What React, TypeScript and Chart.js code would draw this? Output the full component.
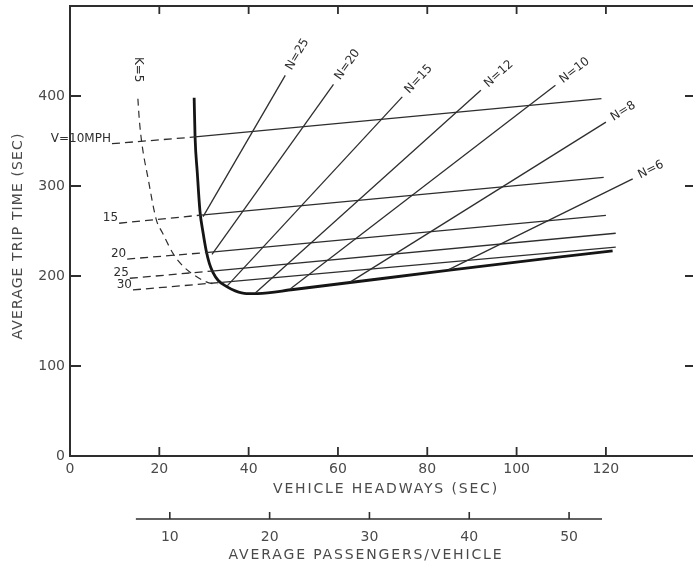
import { useEffect, useRef } from "react";
import { Chart, registerables } from "chart.js";

Chart.register(...registerables);

// ---- axes ----
const xTicks = [0, 20, 40, 60, 80, 100, 120];
const yTicks = [0, 100, 200, 300, 400];
const xRange = [0, 139.5];
const yRange = [0, 500];
const xTitle = "VEHICLE HEADWAYS (SEC)";
const yTitle = "AVERAGE TRIP TIME (SEC)";

// secondary scale: average passengers per vehicle
const passengerTicks = [10, 20, 30, 40, 50];
const passengerRange = [6.6, 53.3];
const headwayPerPassenger = 2.235;
const passengerTitle = "AVERAGE PASSENGERS/VEHICLE";

// ---- bold envelope curve ----
const envelopeX = [27.8, 28, 28.5, 29.1, 29.8, 30.5, 31.2, 32, 33.2, 35, 37, 39.5, 42, 50, 85, 121.5];
const envelopeY = [398, 355, 315, 272, 248, 228, 214, 204, 195, 188.5, 183.5, 180.5, 180.5, 185, 206.5, 228];

// ---- K = 5 dashed curve ----
const kLabel = "K=5";
const kX = [15.2, 15.5, 16.1, 17.5, 19.3, 20.7, 23.2, 25.3, 27.5, 30.5, 33];
const kY = [397, 375, 347, 308, 263, 248, 224, 211, 202, 193.5, 190.5];

// ---- speed lines (V) ----
const speedLabels = ["V=10MPH", "15", "20", "25", "30"];
const speedDashX = [9.4, 11, 12.8, 13.4, 14.1];
const speedDashY = [347, 258.6, 218.8, 197.5, 184.5];
const speedStartX = [28, 29.9, 30.4, 31.8, 34];
const speedStartY = [354.5, 268, 226, 205.5, 193];
const speedEndX = [119, 119.5, 120, 122.2, 122.2];
const speedEndY = [397, 309.5, 267.4, 247.5, 232];

// ---- N lines ----
const nLabels = ["N=25", "N=20", "N=15", "N=12", "N=10", "N=8", "N=6"];
const nStartX = [29.8, 31.8, 35.2, 41.5, 49.3, 62.8, 84.8];
const nStartY = [266, 224, 189, 181, 185.5, 193.5, 207];
const nEndX = [48.2, 59, 74.4, 92, 108.7, 120, 126];
const nEndY = [423, 413, 399, 406.5, 412, 371, 308];

const FONT = "'DejaVu Sans', sans-serif";
const INK = "#2e2e2e";
const TICK_INK = "#4a4a4a";

function drawSpaced(ctx: CanvasRenderingContext2D, text: string, x: number, y: number, target: number, rot: number) {
  ctx.save();
  ctx.translate(x, y);
  if (rot) ctx.rotate(rot);
  (ctx as any).letterSpacing = "0px";
  const w = ctx.measureText(text).width;
  const ls = Math.max(0, (target - w) / text.length);
  (ctx as any).letterSpacing = ls + "px";
  ctx.textAlign = "left";
  ctx.textBaseline = "middle";
  ctx.fillText(text, -target / 2, 0);
  ctx.restore();
}

const decorPlugin = {
  id: "decor",
  afterDraw(chart: any) {
    const ctx: CanvasRenderingContext2D = chart.ctx;
    const xs = chart.scales.x;
    const ys = chart.scales.y;
    const { left, right, top, bottom } = chart.chartArea;
    ctx.save();
    ctx.strokeStyle = INK;
    ctx.lineCap = "butt";

    // top border
    ctx.lineWidth = 2;
    ctx.beginPath();
    ctx.moveTo(left - 1, top);
    ctx.lineTo(right, top);
    ctx.stroke();

    // inward ticks
    ctx.lineWidth = 1.8;
    xTicks.filter((v) => v > 0).forEach((v) => {
      const px = xs.getPixelForValue(v);
      ctx.beginPath();
      ctx.moveTo(px, bottom);
      ctx.lineTo(px, bottom - 9);
      ctx.moveTo(px, top);
      ctx.lineTo(px, top + 8);
      ctx.stroke();
    });
    yTicks.filter((v) => v > 0).forEach((v) => {
      const py = ys.getPixelForValue(v);
      ctx.beginPath();
      ctx.moveTo(left, py);
      ctx.lineTo(left + 11, py);
      ctx.moveTo(right, py);
      ctx.lineTo(right - 8, py);
      ctx.stroke();
    });

    // passenger scale
    const py0 = bottom + 63;
    ctx.lineWidth = 1.6;
    ctx.beginPath();
    ctx.moveTo(xs.getPixelForValue(passengerRange[0] * headwayPerPassenger), py0);
    ctx.lineTo(xs.getPixelForValue(passengerRange[1] * headwayPerPassenger), py0);
    ctx.stroke();
    ctx.fillStyle = TICK_INK;
    ctx.font = `14px ${FONT}`;
    ctx.textAlign = "center";
    ctx.textBaseline = "middle";
    passengerTicks.forEach((p) => {
      const px = xs.getPixelForValue(p * headwayPerPassenger);
      ctx.beginPath();
      ctx.moveTo(px, py0);
      ctx.lineTo(px, py0 - 7);
      ctx.stroke();
      ctx.fillText(String(p), px, py0 + 18);
    });

    // axis titles
    ctx.font = `14px ${FONT}`;
    ctx.fillStyle = TICK_INK;
    drawSpaced(ctx, xTitle, 386, bottom + 33, 226, 0);
    drawSpaced(ctx, passengerTitle, 366, bottom + 99, 275, 0);
    drawSpaced(ctx, yTitle, left - 52, 236, 207, -Math.PI / 2);

    // in-plot labels
    ctx.fillStyle = INK;
    ctx.font = `12px ${FONT}`;
    speedLabels.forEach((l, i) => {
      const px = xs.getPixelForValue(speedDashX[i]);
      const py = ys.getPixelForValue(speedDashY[i]);
      ctx.textAlign = "right";
      ctx.textBaseline = "middle";
      ctx.fillText(l, px - 1, py - 5);
    });

    nLabels.forEach((l, i) => {
      const x1 = xs.getPixelForValue(nStartX[i]);
      const y1 = ys.getPixelForValue(nStartY[i]);
      const x2 = xs.getPixelForValue(nEndX[i]);
      const y2 = ys.getPixelForValue(nEndY[i]);
      const ang = Math.atan2(y2 - y1, x2 - x1);
      const w = ctx.measureText(l).width;
      const d = 7 + w / 2;
      ctx.save();
      ctx.translate(x2 + Math.cos(ang) * d, y2 + Math.sin(ang) * d);
      ctx.rotate(ang);
      ctx.textAlign = "center";
      ctx.textBaseline = "middle";
      ctx.fillText(l, 0, 0);
      ctx.restore();
    });

    // K label
    ctx.save();
    ctx.translate(xs.getPixelForValue(kX[0]), ys.getPixelForValue(kY[0]) - 29);
    ctx.rotate(Math.PI / 2);
    ctx.textAlign = "center";
    ctx.textBaseline = "middle";
    ctx.fillText(kLabel, 0, 0);
    ctx.restore();

    ctx.restore();
  },
};

export default function App() {
  const ref = useRef<HTMLCanvasElement | null>(null);

  useEffect(() => {
    if (!ref.current) return;
    const thin = {
      borderColor: INK,
      borderWidth: 1.3,
      pointRadius: 0,
      showLine: true,
      fill: false,
    };
    const datasets: any[] = [];
    speedLabels.forEach((l, i) => {
      datasets.push({
        ...thin,
        label: l + " (extension)",
        data: [
          { x: speedDashX[i], y: speedDashY[i] },
          { x: speedStartX[i], y: speedStartY[i] },
        ],
        borderDash: [8, 5],
      });
      datasets.push({
        ...thin,
        label: l,
        data: [
          { x: speedStartX[i], y: speedStartY[i] },
          { x: speedEndX[i], y: speedEndY[i] },
        ],
      });
    });
    nLabels.forEach((l, i) => {
      datasets.push({
        ...thin,
        label: l,
        data: [
          { x: nStartX[i], y: nStartY[i] },
          { x: nEndX[i], y: nEndY[i] },
        ],
      });
    });
    datasets.push({
      ...thin,
      label: kLabel,
      borderWidth: 1.2,
      borderDash: [7, 5],
      cubicInterpolationMode: "monotone",
      data: kX.map((x, i) => ({ x, y: kY[i] })),
    });
    datasets.push({
      ...thin,
      label: "envelope",
      borderColor: "#151515",
      borderWidth: 2.8,
      cubicInterpolationMode: "monotone",
      data: envelopeX.map((x, i) => ({ x, y: envelopeY[i] })),
    });

    const tickFont = { family: FONT, size: 14 };
    const chart = new Chart(ref.current, {
      type: "scatter",
      data: { datasets },
      plugins: [decorPlugin],
      options: {
        animation: false,
        responsive: false,
        events: [],
        layout: { padding: { top: 6, right: 0, left: 0, bottom: 0 } },
        plugins: { legend: { display: false }, tooltip: { enabled: false } },
        scales: {
          x: {
            type: "linear",
            min: xRange[0],
            max: xRange[1],
            afterFit: (s: any) => {
              s.height = 110;
              s.paddingLeft = 0;
              s.paddingRight = 0;
            },
            afterBuildTicks: (s: any) => {
              s.ticks = xTicks.map((v) => ({ value: v }));
            },
            grid: { display: false, drawTicks: false },
            border: { display: true, color: INK, width: 2 },
            ticks: { autoSkip: false, maxRotation: 0, padding: 5, color: TICK_INK, font: tickFont },
          },
          y: {
            type: "linear",
            min: yRange[0],
            max: yRange[1],
            afterFit: (s: any) => {
              s.width = 70;
              s.paddingTop = 0;
              s.paddingBottom = 0;
            },
            afterBuildTicks: (s: any) => {
              s.ticks = yTicks.map((v) => ({ value: v }));
            },
            grid: { display: false, drawTicks: false },
            border: { display: true, color: INK, width: 2 },
            ticks: { autoSkip: false, padding: 5, color: TICK_INK, font: tickFont },
          },
        },
      } as any,
    });
    return () => chart.destroy();
  }, []);

  return (
    <div style={{ position: "absolute", left: 0, top: 0, width: 693, height: 566, background: "#fff" }}>
      <canvas ref={ref} width={693} height={566} style={{ display: "block" }} />
    </div>
  );
}
